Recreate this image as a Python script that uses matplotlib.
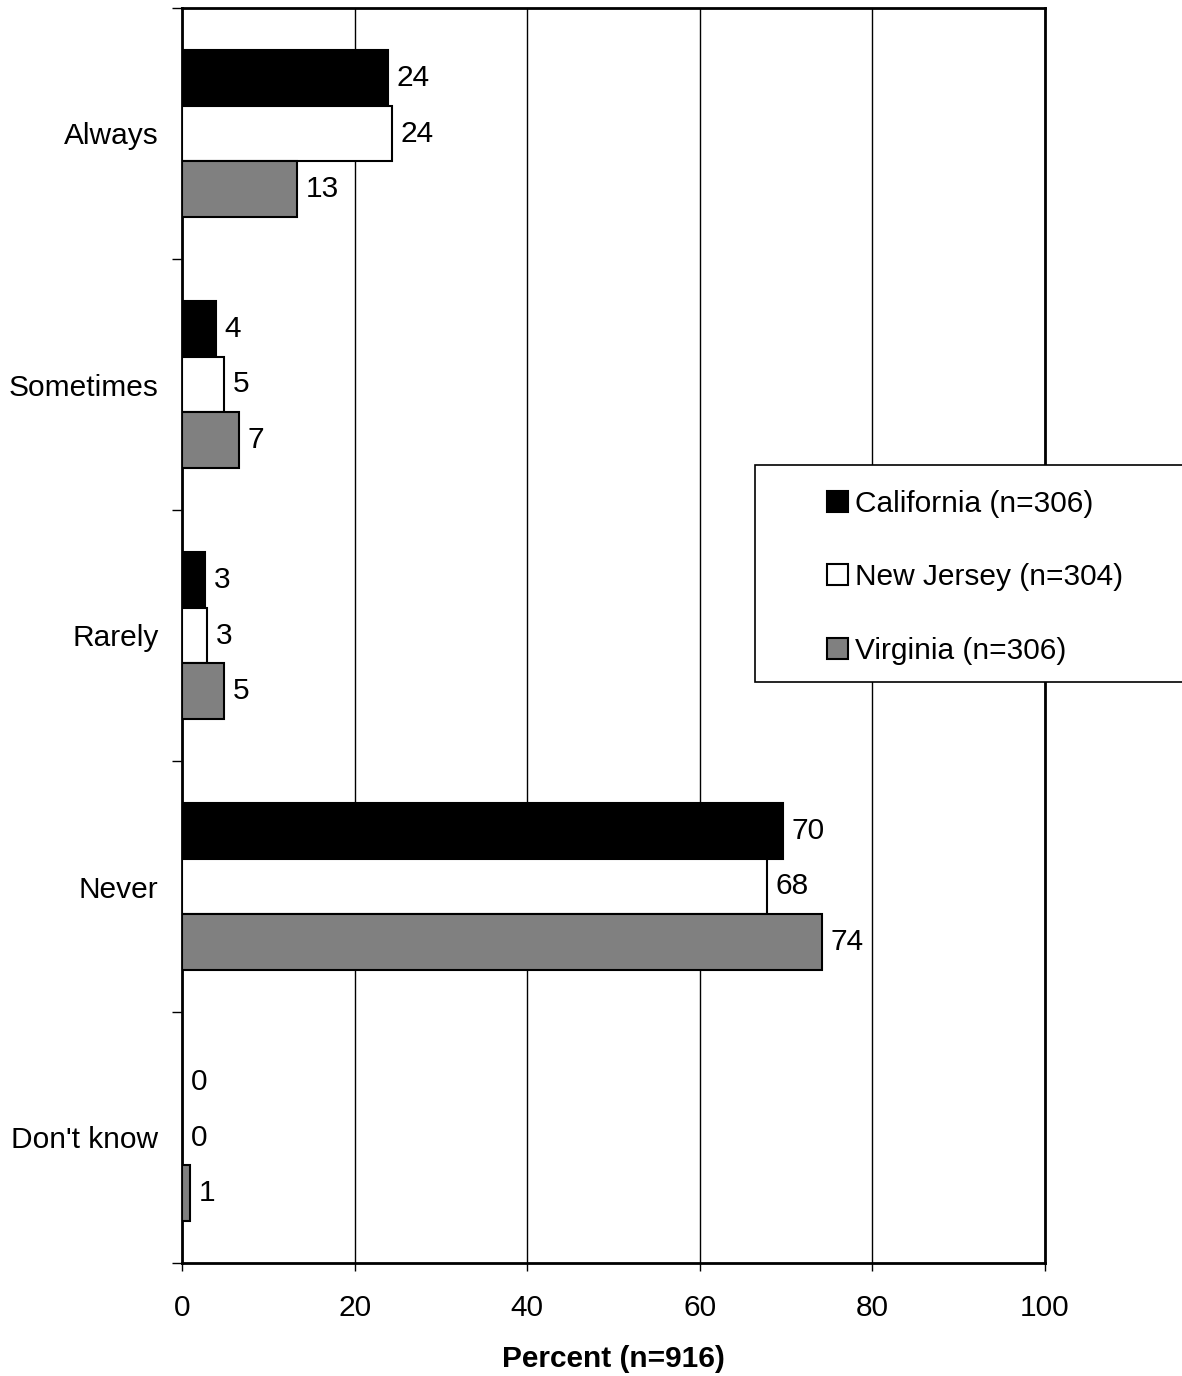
import matplotlib
matplotlib.use("Agg")
import matplotlib.pyplot as plt
from matplotlib.patches import Rectangle
import numpy as np

plt.rcParams['font.family'] = ['Liberation Sans', 'DejaVu Sans']

categories = ["Always", "Sometimes", "Rarely", "Never", "Don't know"]
series_names = ["California (n=306)", "New Jersey (n=304)", "Virginia (n=306)"]
california = [23.9, 3.9, 2.7, 69.6, 0.0]
new_jersey = [24.3, 4.9, 2.9, 67.8, 0.0]
virginia = [13.3, 6.6, 4.9, 74.2, 0.9]
x_ticks = [0, 20, 40, 60, 80, 100]

W, H = 1182, 1376
fig = plt.figure(figsize=(W / 100, H / 100), dpi=100)
ax = fig.add_axes([182 / W, 1 - 1263 / H, (1045 - 182) / W, (1263 - 8) / H])

fs = 21.5
colors = ["black", "white", "#808080"]
bh = 0.223
offsets = [-bh, 0, bh]
y = np.arange(len(categories))
for vals, c, off, name in zip([california, new_jersey, virginia], colors, offsets, series_names):
    bars = ax.barh(y + off, vals, height=bh, color=c, edgecolor="black", linewidth=1.5,
                   label=name, zorder=3)
    for b, v in zip(bars, vals):
        ax.text(v + 1.0, b.get_y() + b.get_height() / 2, f"{v:.0f}", va="center",
                ha="left", fontsize=fs, zorder=4)

ax.set_xlim(0, 100)
ax.set_ylim(len(categories) - 0.5, -0.5)
ax.set_xticks(x_ticks)
ax.set_xticklabels([str(t) for t in x_ticks], fontsize=fs)
ax.set_yticks(np.arange(len(categories) + 1) - 0.5)
ax.set_yticklabels([])
ax.set_yticks(y, minor=True)
ax.set_yticklabels(categories, minor=True, fontsize=fs)
ax.tick_params(axis="y", which="major", length=7, width=1, direction="out")
ax.tick_params(axis="y", which="minor", length=0, pad=17)
ax.tick_params(axis="x", length=6, width=1, direction="out", pad=16)
ax.xaxis.grid(True, color="black", linewidth=1)
ax.set_axisbelow(True)
for s in ax.spines.values():
    s.set_linewidth(2)
ax.set_xlabel("Percent (n=916)", fontsize=fs, fontweight="bold", labelpad=17)

# legend frame
rect = Rectangle((755 / W, 1 - 682 / H), (W + 10 - 755) / W, (682 - 465) / H,
                 transform=fig.transFigure, facecolor="white", edgecolor="black",
                 linewidth=1.2, zorder=10, clip_on=False)
fig.patches.append(rect)
leg = fig.legend(loc="upper left", bbox_to_anchor=(803 / W, 1 - 466 / H), frameon=False,
                 fontsize=fs, handlelength=0.7, handleheight=0.7, handletextpad=0.25,
                 labelspacing=1.52, borderpad=0.3)
leg.set_zorder(11)

fig.savefig("out.png", dpi=100)
